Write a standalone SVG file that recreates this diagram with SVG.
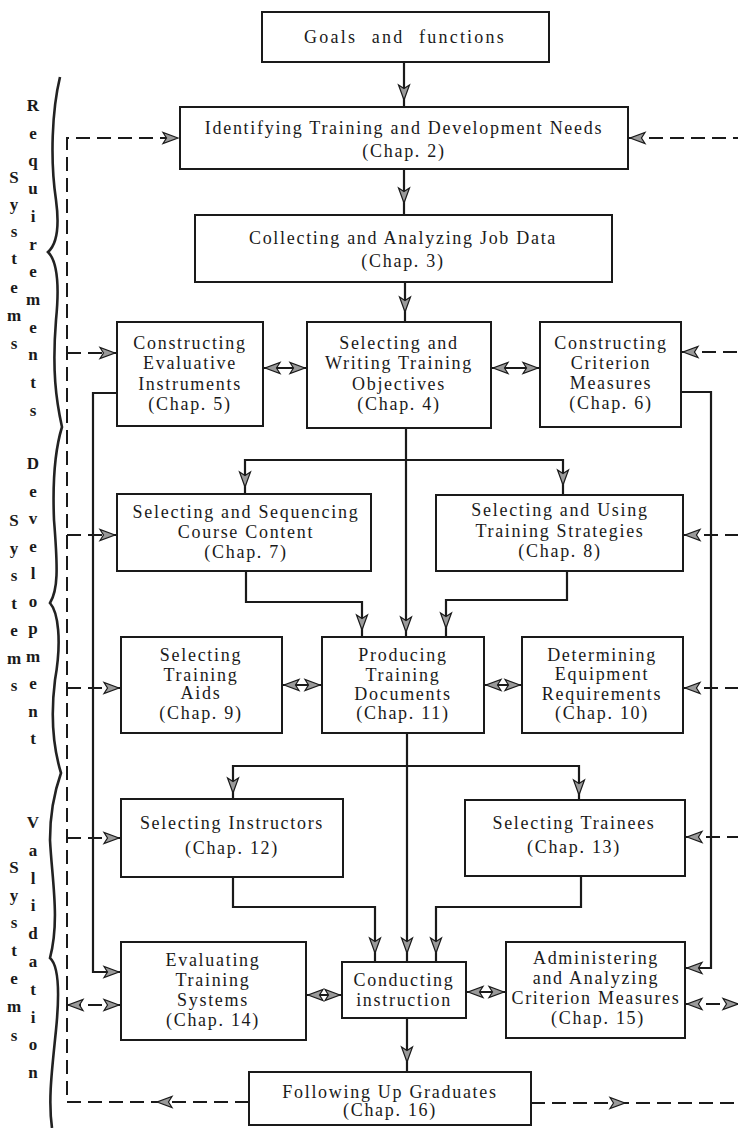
<svg xmlns="http://www.w3.org/2000/svg" xmlns:xlink="http://www.w3.org/1999/xlink" width="738" height="1128" viewBox="0 0 738 1128">
<style>
.bx{fill:#fff;stroke:#1a1a1a;stroke-width:2}
.t{font-family:"Liberation Serif","Times New Roman",serif;font-size:18px;letter-spacing:1.7px;fill:#1a1a1a;text-anchor:middle}
.v{font-family:"Liberation Serif","Times New Roman",serif;font-size:17px;font-weight:bold;fill:#1a1a1a;text-anchor:middle}
.ln{fill:none;stroke:#1a1a1a;stroke-width:2.2}
.dl{fill:none;stroke:#1a1a1a;stroke-width:2;stroke-dasharray:14 7}
.br{fill:none;stroke:#222;stroke-width:2.6}
</style>
<defs>
<path id="ah" d="M0,0 L-15,-5.5 L-11.5,0 L-15,5.5 Z" fill="#9a9a9a" stroke="#1a1a1a" stroke-width="1.2"/>
</defs>

<g id="brace">
<path class="br" d="M60,77 C52,110 50,160 56,200 C60,230 56,245 48,252 C56,260 60,280 56,320 C52,370 56,400 62,427 C58,440 52,470 54,520 C58,570 58,590 50,603 C58,612 62,640 55,680 C50,720 54,750 61,773 C55,790 50,810 50,840 C52,880 60,920 50,958 C58,965 60,990 56,1030 C52,1070 48,1100 52,1128"/>
</g>

<g id="label-requirements">
<text class="v"><tspan x="14" y="183">S</tspan><tspan x="14" y="210">y</tspan><tspan x="14" y="237">s</tspan><tspan x="14" y="264">t</tspan><tspan x="14" y="293">e</tspan><tspan x="14" y="321">m</tspan><tspan x="14" y="349">s</tspan></text>
<text class="v"><tspan x="33" y="111">R</tspan><tspan x="33" y="138.7">e</tspan><tspan x="33" y="166.4">q</tspan><tspan x="33" y="194.1">u</tspan><tspan x="33" y="221.8">i</tspan><tspan x="33" y="249.5">r</tspan><tspan x="33" y="277.2">e</tspan><tspan x="33" y="304.9">m</tspan><tspan x="33" y="332.6">e</tspan><tspan x="33" y="360.3">n</tspan><tspan x="33" y="388">t</tspan><tspan x="33" y="415.7">s</tspan></text>
</g>
<g id="label-development">
<text class="v"><tspan x="14" y="526">S</tspan><tspan x="14" y="553.5">y</tspan><tspan x="14" y="581">s</tspan><tspan x="14" y="608.5">t</tspan><tspan x="14" y="636">e</tspan><tspan x="14" y="663.5">m</tspan><tspan x="14" y="691">s</tspan></text>
<text class="v"><tspan x="33" y="469">D</tspan><tspan x="33" y="496.5">e</tspan><tspan x="33" y="524">v</tspan><tspan x="33" y="551.5">e</tspan><tspan x="33" y="579">l</tspan><tspan x="33" y="606.5">o</tspan><tspan x="33" y="634">p</tspan><tspan x="33" y="661.5">m</tspan><tspan x="33" y="689">e</tspan><tspan x="33" y="716.5">n</tspan><tspan x="33" y="744">t</tspan></text>
</g>
<g id="label-validation">
<text class="v"><tspan x="14" y="873">S</tspan><tspan x="14" y="901">y</tspan><tspan x="14" y="928">s</tspan><tspan x="14" y="956">t</tspan><tspan x="14" y="984">e</tspan><tspan x="14" y="1012">m</tspan><tspan x="14" y="1041">s</tspan></text>
<text class="v"><tspan x="33" y="828">V</tspan><tspan x="33" y="855.8">a</tspan><tspan x="33" y="883.6">l</tspan><tspan x="33" y="911.4">i</tspan><tspan x="33" y="939.2">d</tspan><tspan x="33" y="967">a</tspan><tspan x="33" y="994.8">t</tspan><tspan x="33" y="1022.6">i</tspan><tspan x="33" y="1050.4">o</tspan><tspan x="33" y="1078.2">n</tspan></text>
</g>

<g id="connectors">
<path class="dl" d="M249,1102 H67 V138 H180"/>
<path class="dl" d="M67,353 H117 M67,535 H117 M67,688 H121 M67,838 H121 M67,1005 H121"/>
<path class="dl" d="M628,138 H738 M681,352 H738 M683,535 H738 M683,688 H738 M685,837 H738 M685,1004 H738 M531,1103 H738"/>
<path class="ln" d="M404,62 V107 M404,169 V215 M405,282 V322 M406,428 V637"/>
<path class="ln" d="M245,494 V460 H563 V495"/>
<path class="ln" d="M246,571 V602 H362 V637 M567,571 V600 H446 V637"/>
<path class="ln" d="M407,733 V962 M233,799 V766 H579 V800"/>
<path class="ln" d="M233,877 V907 H375 V962 M581,876 V907 H436 V962 M407,1018 V1072"/>
<path class="ln" d="M117,393 H93 V972 H121 M681,392 H711 V968 H685"/>
<path class="ln" d="M263,368 H307 M491,368 H540 M282,685 H322 M484,685 H522 M306,995 H342 M466,992 H506"/>
<!-- down arrowheads -->
<use xlink:href="#ah" href="#ah" transform="translate(404,100) rotate(90)"/>
<use xlink:href="#ah" href="#ah" transform="translate(404,203) rotate(90)"/>
<use xlink:href="#ah" href="#ah" transform="translate(405,312) rotate(90)"/>
<use xlink:href="#ah" href="#ah" transform="translate(245,487) rotate(90)"/>
<use xlink:href="#ah" href="#ah" transform="translate(563,485) rotate(90)"/>
<use xlink:href="#ah" href="#ah" transform="translate(406,632) rotate(90)"/>
<use xlink:href="#ah" href="#ah" transform="translate(362,630) rotate(90)"/>
<use xlink:href="#ah" href="#ah" transform="translate(446,628) rotate(90)"/>
<use xlink:href="#ah" href="#ah" transform="translate(233,793) rotate(90)"/>
<use xlink:href="#ah" href="#ah" transform="translate(579,795) rotate(90)"/>
<use xlink:href="#ah" href="#ah" transform="translate(375,953) rotate(90)"/>
<use xlink:href="#ah" href="#ah" transform="translate(407,953) rotate(90)"/>
<use xlink:href="#ah" href="#ah" transform="translate(436,953) rotate(90)"/>
<use xlink:href="#ah" href="#ah" transform="translate(407,1062) rotate(90)"/>
<!-- right-pointing -->
<use xlink:href="#ah" href="#ah" transform="translate(178,138)"/>
<use xlink:href="#ah" href="#ah" transform="translate(115,353)"/>
<use xlink:href="#ah" href="#ah" transform="translate(115,535)"/>
<use xlink:href="#ah" href="#ah" transform="translate(119,688)"/>
<use xlink:href="#ah" href="#ah" transform="translate(119,838)"/>
<use xlink:href="#ah" href="#ah" transform="translate(119,972)"/>
<use xlink:href="#ah" href="#ah" transform="translate(119,1005)"/>
<use xlink:href="#ah" href="#ah" transform="translate(625,1103)"/>
<use xlink:href="#ah" href="#ah" transform="translate(738,1004)"/>
<!-- left-pointing -->
<use xlink:href="#ah" href="#ah" transform="translate(630,138) rotate(180)"/>
<use xlink:href="#ah" href="#ah" transform="translate(683,352) rotate(180)"/>
<use xlink:href="#ah" href="#ah" transform="translate(685,535) rotate(180)"/>
<use xlink:href="#ah" href="#ah" transform="translate(685,688) rotate(180)"/>
<use xlink:href="#ah" href="#ah" transform="translate(687,837) rotate(180)"/>
<use xlink:href="#ah" href="#ah" transform="translate(687,968) rotate(180)"/>
<use xlink:href="#ah" href="#ah" transform="translate(687,1004) rotate(180)"/>
<use xlink:href="#ah" href="#ah" transform="translate(68,1005) rotate(180)"/>
<use xlink:href="#ah" href="#ah" transform="translate(157,1102) rotate(180)"/>
<!-- double arrows -->
<use xlink:href="#ah" href="#ah" transform="translate(265,368) rotate(180)"/>
<use xlink:href="#ah" href="#ah" transform="translate(305,368)"/>
<use xlink:href="#ah" href="#ah" transform="translate(493,368) rotate(180)"/>
<use xlink:href="#ah" href="#ah" transform="translate(538,368)"/>
<use xlink:href="#ah" href="#ah" transform="translate(284,685) rotate(180)"/>
<use xlink:href="#ah" href="#ah" transform="translate(320,685)"/>
<use xlink:href="#ah" href="#ah" transform="translate(486,685) rotate(180)"/>
<use xlink:href="#ah" href="#ah" transform="translate(520,685)"/>
<use xlink:href="#ah" href="#ah" transform="translate(308,995) rotate(180)"/>
<use xlink:href="#ah" href="#ah" transform="translate(340,995)"/>
<use xlink:href="#ah" href="#ah" transform="translate(468,992) rotate(180)"/>
<use xlink:href="#ah" href="#ah" transform="translate(504,992)"/>
</g>

<g id="goals">
<rect class="bx" x="262" y="12" width="287" height="50"/>
<text class="t" x="405" y="43" style="letter-spacing:2.2px;word-spacing:8px">Goals and functions</text>
</g>
<g id="identifying">
<rect class="bx" x="180" y="107" width="448" height="62"/>
<text class="t" x="404" y="134">Identifying Training and Development Needs</text>
<text class="t" x="404" y="157">(Chap. 2)</text>
</g>
<g id="collecting">
<rect class="bx" x="195" y="215" width="417" height="67"/>
<text class="t" x="403" y="244">Collecting and Analyzing Job Data</text>
<text class="t" x="403" y="267">(Chap. 3)</text>
</g>
<g id="constructing-evaluative">
<rect class="bx" x="117" y="322" width="146" height="104"/>
<text class="t" x="190" y="349">Constructing</text>
<text class="t" x="190" y="369">Evaluative</text>
<text class="t" x="190" y="390">Instruments</text>
<text class="t" x="190" y="410">(Chap. 5)</text>
</g>
<g id="selecting-writing">
<rect class="bx" x="307" y="322" width="184" height="106"/>
<text class="t" x="399" y="349">Selecting and</text>
<text class="t" x="399" y="369">Writing Training</text>
<text class="t" x="399" y="390">Objectives</text>
<text class="t" x="399" y="410">(Chap. 4)</text>
</g>
<g id="constructing-criterion">
<rect class="bx" x="540" y="322" width="141" height="105"/>
<text class="t" x="611" y="349">Constructing</text>
<text class="t" x="611" y="369">Criterion</text>
<text class="t" x="611" y="389">Measures</text>
<text class="t" x="611" y="409">(Chap. 6)</text>
</g>
<g id="sequencing">
<rect class="bx" x="117" y="494" width="254" height="77"/>
<text class="t" x="246" y="518">Selecting and Sequencing</text>
<text class="t" x="246" y="538">Course Content</text>
<text class="t" x="246" y="558">(Chap. 7)</text>
</g>
<g id="strategies">
<rect class="bx" x="436" y="495" width="247" height="76"/>
<text class="t" x="560" y="516">Selecting and Using</text>
<text class="t" x="560" y="537">Training Strategies</text>
<text class="t" x="560" y="557">(Chap. 8)</text>
</g>
<g id="aids">
<rect class="bx" x="121" y="637" width="161" height="96"/>
<text class="t" x="201" y="661">Selecting</text>
<text class="t" x="201" y="681">Training</text>
<text class="t" x="201" y="699">Aids</text>
<text class="t" x="201" y="719">(Chap. 9)</text>
</g>
<g id="producing">
<rect class="bx" x="322" y="637" width="162" height="96"/>
<text class="t" x="403" y="661">Producing</text>
<text class="t" x="403" y="681">Training</text>
<text class="t" x="403" y="700">Documents</text>
<text class="t" x="403" y="719">(Chap. 11)</text>
</g>
<g id="equipment">
<rect class="bx" x="522" y="637" width="161" height="96"/>
<text class="t" x="602" y="661">Determining</text>
<text class="t" x="602" y="680">Equipment</text>
<text class="t" x="602" y="700">Requirements</text>
<text class="t" x="602" y="719">(Chap. 10)</text>
</g>
<g id="instructors">
<rect class="bx" x="121" y="799" width="222" height="78"/>
<text class="t" x="232" y="829">Selecting Instructors</text>
<text class="t" x="232" y="854">(Chap. 12)</text>
</g>
<g id="trainees">
<rect class="bx" x="465" y="800" width="220" height="76"/>
<text class="t" x="574" y="829">Selecting Trainees</text>
<text class="t" x="574" y="853">(Chap. 13)</text>
</g>
<g id="evaluating">
<rect class="bx" x="121" y="942" width="185" height="98"/>
<text class="t" x="213" y="966">Evaluating</text>
<text class="t" x="213" y="986">Training</text>
<text class="t" x="213" y="1006">Systems</text>
<text class="t" x="213" y="1026">(Chap. 14)</text>
</g>
<g id="conducting">
<rect class="bx" x="342" y="962" width="124" height="56"/>
<text class="t" x="404" y="986">Conducting</text>
<text class="t" x="404" y="1006">instruction</text>
</g>
<g id="administering">
<rect class="bx" x="506" y="942" width="179" height="96"/>
<text class="t" x="596" y="964">Administering</text>
<text class="t" x="596" y="984">and Analyzing</text>
<text class="t" x="596" y="1004">Criterion Measures</text>
<text class="t" x="598" y="1024">(Chap. 15)</text>
</g>
<g id="following">
<rect class="bx" x="249" y="1072" width="282" height="53"/>
<text class="t" x="390" y="1098">Following Up Graduates</text>
<text class="t" x="390" y="1116">(Chap. 16)</text>
</g>
</svg>
